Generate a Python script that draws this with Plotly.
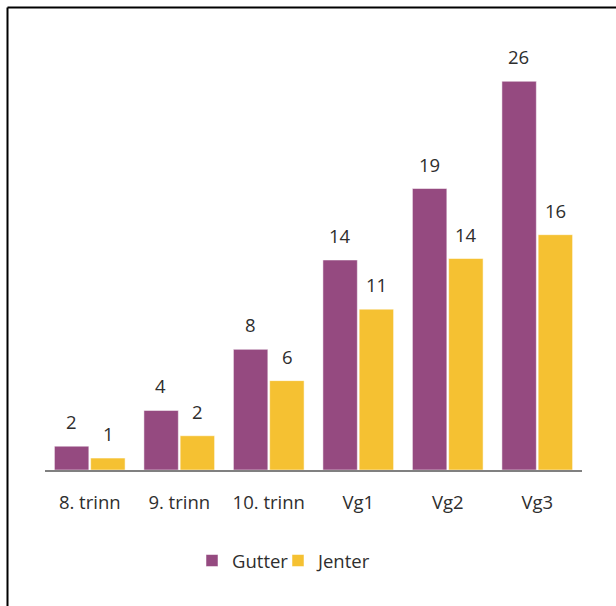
import plotly.graph_objects as go

categories = ["8. trinn", "9. trinn", "10. trinn", "Vg1", "Vg2", "Vg3"]
gutter = [1.6, 4.0, 8.1, 14.1, 18.9, 26.1]
jenter = [0.8, 2.3, 6.0, 10.8, 14.2, 15.8]
series_names = ["Gutter", "Jenter"]

PURPLE = "#954A80"
YELLOW = "#F5C132"
TXT = "#2E2E2E"
FONT = "Open Sans"
FS = 18.5

W, H = 616, 606
L, R, T, B = 45, 34, 50, 136
YMAX = 28.2

pw = W - L - R
ph = H - T - B
def px2x(p):
    return (p - L) / pw
def py2y(p):
    return (H - B - p) / ph

fig = go.Figure()
fig.add_trace(go.Bar(x=categories, y=gutter, name=series_names[0], legend="legend",
                     marker=dict(color=PURPLE, line=dict(color="rgba(255,255,255,0.5)", width=1))))
fig.add_trace(go.Bar(x=categories, y=jenter, name=series_names[1], legend="legend2",
                     marker=dict(color=YELLOW, line=dict(color="rgba(255,255,255,0.5)", width=1))))

ann = []
for vals, dx in ((gutter, -18.5), (jenter, 18.5)):
    for c, v in zip(categories, vals):
        ann.append(dict(x=c, y=v, xref="x", yref="y", text=f"{round(v):d}",
                        showarrow=False, xshift=dx, yshift=10, yanchor="bottom",
                        font=dict(family=FONT, size=FS, color=TXT)))

fig.add_shape(type="line", xref="paper", yref="paper",
              x0=px2x(7.5), x1=px2x(7.5), y0=py2y(7.5), y1=py2y(700),
              line=dict(color="black", width=2))
fig.add_shape(type="line", xref="paper", yref="paper",
              x0=px2x(7.5), x1=px2x(700), y0=py2y(7.5), y1=py2y(7.5),
              line=dict(color="black", width=2))

leg_common = dict(orientation="h", xanchor="left", y=py2y(561), yanchor="middle",
                  font=dict(family=FONT, size=FS, color=TXT), itemwidth=30,
                  bgcolor="rgba(0,0,0,0)")
fig.update_layout(
    width=W, height=H,
    margin=dict(l=L, r=R, t=T, b=B),
    paper_bgcolor="white", plot_bgcolor="white",
    barmode="group", bargap=0.19, bargroupgap=0.05,
    showlegend=True,
    legend=dict(x=px2x(192), **leg_common),
    legend2=dict(x=px2x(278), **leg_common),
    annotations=ann,
    font=dict(family=FONT, size=FS, color=TXT),
)
fig.update_xaxes(showline=True, linecolor="#808080", linewidth=2, ticks="outside",
                 ticklen=15, tickcolor="rgba(0,0,0,0)",
                 tickfont=dict(family=FONT, size=FS, color=TXT), showgrid=False)
fig.update_yaxes(visible=False, range=[0, YMAX], showgrid=False, zeroline=False)

fig.write_html("out.html")
